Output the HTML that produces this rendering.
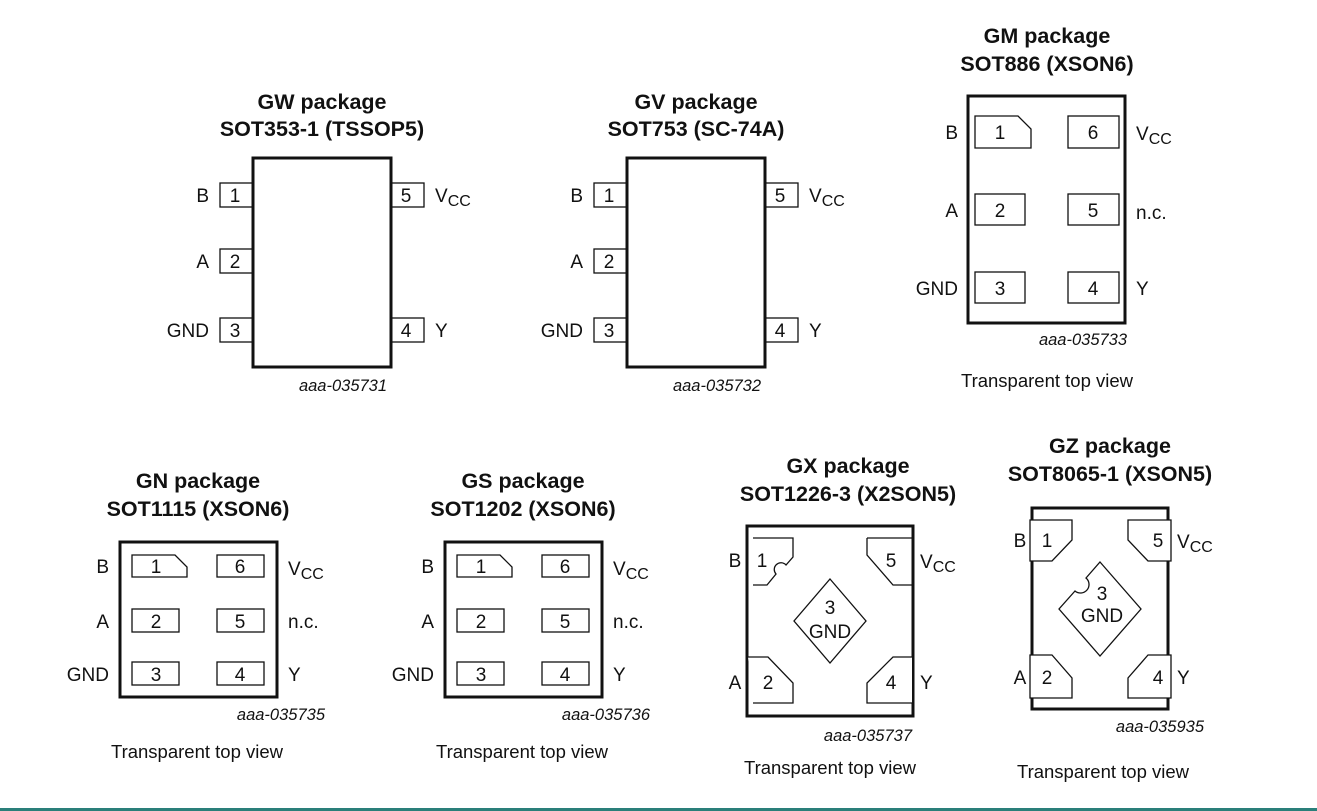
<!DOCTYPE html>
<html><head><meta charset="utf-8"><style>
html,body{margin:0;padding:0;background:#fff;}
svg{display:block;font-family:"Liberation Sans",Arial,sans-serif;}
.t{font-weight:bold;font-size:21.5px;text-anchor:middle;fill:#111;}
.l{font-size:19px;fill:#111;}
.n{font-size:19px;fill:#111;text-anchor:middle;}
.c{font-size:16.5px;font-style:italic;fill:#111;}
.v{font-size:18.5px;fill:#111;text-anchor:middle;}
.body{fill:none;stroke:#111;stroke-width:3;}
.pad{fill:#fff;stroke:#111;stroke-width:1.3;}
</style></head><body>
<svg width="1317" height="811" viewBox="0 0 1317 811">
<!-- GW -->
<g>
<text class="t" x="322" y="109">GW package</text>
<text class="t" x="322" y="136">SOT353-1 (TSSOP5)</text>
<rect class="pad" x="220" y="183" width="33" height="24"/><rect class="pad" x="220" y="249" width="33" height="24"/><rect class="pad" x="220" y="318" width="33" height="24"/>
<rect class="pad" x="391" y="183" width="33" height="24"/><rect class="pad" x="391" y="318" width="33" height="24"/>
<rect class="body" x="253" y="158" width="138" height="209" fill="#fff"/>
<text class="n" x="235" y="202">1</text><text class="n" x="235" y="268">2</text><text class="n" x="235" y="337">3</text>
<text class="n" x="406" y="202">5</text><text class="n" x="406" y="337">4</text>
<text class="l" x="209" y="202" text-anchor="end">B</text><text class="l" x="209" y="268" text-anchor="end">A</text><text class="l" x="209" y="337" text-anchor="end">GND</text>
<text class="l" x="435" y="202">V<tspan font-size="16" dy="4">CC</tspan></text><text class="l" x="435" y="337">Y</text>
<text class="c" x="343" y="391" text-anchor="middle">aaa-035731</text>
</g>
<!-- GV -->
<g transform="translate(374,0)">
<text class="t" x="322" y="109">GV package</text>
<text class="t" x="322" y="136">SOT753 (SC-74A)</text>
<rect class="pad" x="220" y="183" width="33" height="24"/><rect class="pad" x="220" y="249" width="33" height="24"/><rect class="pad" x="220" y="318" width="33" height="24"/>
<rect class="pad" x="391" y="183" width="33" height="24"/><rect class="pad" x="391" y="318" width="33" height="24"/>
<rect class="body" x="253" y="158" width="138" height="209" fill="#fff"/>
<text class="n" x="235" y="202">1</text><text class="n" x="235" y="268">2</text><text class="n" x="235" y="337">3</text>
<text class="n" x="406" y="202">5</text><text class="n" x="406" y="337">4</text>
<text class="l" x="209" y="202" text-anchor="end">B</text><text class="l" x="209" y="268" text-anchor="end">A</text><text class="l" x="209" y="337" text-anchor="end">GND</text>
<text class="l" x="435" y="202">V<tspan font-size="16" dy="4">CC</tspan></text><text class="l" x="435" y="337">Y</text>
<text class="c" x="343" y="391" text-anchor="middle">aaa-035732</text>
</g>
<!-- GM -->
<g>
<text class="t" x="1047" y="43">GM package</text>
<text class="t" x="1047" y="71">SOT886 (XSON6)</text>
<rect class="body" x="968" y="96" width="157" height="227"/>
<path class="pad" d="M975,116 H1018 L1031,129 V148 H975 Z"/>
<rect class="pad" x="1068" y="116" width="51" height="32"/>
<rect class="pad" x="975" y="194" width="50" height="31"/><rect class="pad" x="1068" y="194" width="51" height="31"/>
<rect class="pad" x="975" y="272" width="50" height="31"/><rect class="pad" x="1068" y="272" width="51" height="31"/>
<text class="n" x="1000" y="139">1</text><text class="n" x="1000" y="217">2</text><text class="n" x="1000" y="295">3</text>
<text class="n" x="1093" y="139">6</text><text class="n" x="1093" y="217">5</text><text class="n" x="1093" y="295">4</text>
<text class="l" x="958" y="139" text-anchor="end">B</text><text class="l" x="958" y="217" text-anchor="end">A</text><text class="l" x="958" y="295" text-anchor="end">GND</text>
<text class="l" x="1136" y="140">V<tspan font-size="16" dy="4">CC</tspan></text><text class="l" x="1136" y="219" font-size="13">n.c.</text><text class="l" x="1136" y="295">Y</text>
<text class="c" x="1083" y="345" text-anchor="middle">aaa-035733</text>
<text class="v" x="1047" y="387">Transparent top view</text>
</g>
<!-- GN -->
<g>
<text class="t" x="198" y="488">GN package</text>
<text class="t" x="198" y="516">SOT1115 (XSON6)</text>
<rect class="body" x="120" y="542" width="157" height="155"/>
<path class="pad" d="M132,555 H175 L187,567 V577 H132 Z"/>
<rect class="pad" x="132" y="609" width="47" height="23"/><rect class="pad" x="132" y="662" width="47" height="23"/>
<rect class="pad" x="217" y="555" width="47" height="22"/><rect class="pad" x="217" y="609" width="47" height="23"/><rect class="pad" x="217" y="662" width="47" height="23"/>
<text class="n" x="156" y="573">1</text><text class="n" x="156" y="628">2</text><text class="n" x="156" y="681">3</text>
<text class="n" x="240" y="573">6</text><text class="n" x="240" y="628">5</text><text class="n" x="240" y="681">4</text>
<text class="l" x="109" y="573" text-anchor="end">B</text><text class="l" x="109" y="628" text-anchor="end">A</text><text class="l" x="109" y="681" text-anchor="end">GND</text>
<text class="l" x="288" y="575">V<tspan font-size="16" dy="4">CC</tspan></text><text class="l" x="288" y="628" font-size="18">n.c.</text><text class="l" x="288" y="681">Y</text>
<text class="c" x="325" y="720" text-anchor="end">aaa-035735</text>
<text class="v" x="197" y="758">Transparent top view</text>
</g>
<!-- GS -->
<g transform="translate(325,0)">
<text class="t" x="198" y="488">GS package</text>
<text class="t" x="198" y="516">SOT1202 (XSON6)</text>
<rect class="body" x="120" y="542" width="157" height="155"/>
<path class="pad" d="M132,555 H175 L187,567 V577 H132 Z"/>
<rect class="pad" x="132" y="609" width="47" height="23"/><rect class="pad" x="132" y="662" width="47" height="23"/>
<rect class="pad" x="217" y="555" width="47" height="22"/><rect class="pad" x="217" y="609" width="47" height="23"/><rect class="pad" x="217" y="662" width="47" height="23"/>
<text class="n" x="156" y="573">1</text><text class="n" x="156" y="628">2</text><text class="n" x="156" y="681">3</text>
<text class="n" x="240" y="573">6</text><text class="n" x="240" y="628">5</text><text class="n" x="240" y="681">4</text>
<text class="l" x="109" y="573" text-anchor="end">B</text><text class="l" x="109" y="628" text-anchor="end">A</text><text class="l" x="109" y="681" text-anchor="end">GND</text>
<text class="l" x="288" y="575">V<tspan font-size="16" dy="4">CC</tspan></text><text class="l" x="288" y="628" font-size="18">n.c.</text><text class="l" x="288" y="681">Y</text>
<text class="c" x="325" y="720" text-anchor="end">aaa-035736</text>
<text class="v" x="197" y="758">Transparent top view</text>
</g>
<!-- GX -->
<g>
<text class="t" x="848" y="473">GX package</text>
<text class="t" x="848" y="501">SOT1226-3 (X2SON5)</text>
<rect class="body" x="747" y="526" width="166" height="190"/>
<path class="pad" d="M753,538 H793 V557 L786,565 A6,6 0 1 0 776,574 L767,585 H753"/>
<path class="pad" d="M867,538 H912 M867,538 V555 L893,585 H912"/>
<path class="pad" d="M753,703 H793 V683 L768,657 H748"/>
<path class="pad" d="M912,703 H867 V683 L893,657 H912"/>
<polygon class="pad" points="830,579 866,621 830,663 794,621"/>
<text class="n" x="762" y="567">1</text><text class="n" x="891" y="567">5</text><text class="n" x="768" y="689">2</text><text class="n" x="891" y="689">4</text>
<text class="n" x="830" y="614">3</text><text class="n" x="830" y="638">GND</text>
<text class="l" x="735" y="567" text-anchor="middle">B</text><text class="l" x="735" y="689" text-anchor="middle">A</text>
<text class="l" x="920" y="568">V<tspan font-size="16" dy="4">CC</tspan></text><text class="l" x="920" y="689">Y</text>
<text class="c" x="912" y="741" text-anchor="end">aaa-035737</text>
<text class="v" x="830" y="774">Transparent top view</text>
</g>
<!-- GZ -->
<g>
<text class="t" x="1110" y="453">GZ package</text>
<text class="t" x="1110" y="481">SOT8065-1 (XSON5)</text>
<rect class="body" x="1032" y="508" width="136" height="201"/>
<path class="pad" d="M1030,520 H1072 V540 L1052,561 H1030 Z"/>
<path class="pad" d="M1171,520 H1128 V540 L1148,561 H1171 Z"/>
<path class="pad" d="M1030,698 H1072 V678 L1052,655 H1030 Z"/>
<path class="pad" d="M1171,698 H1128 V678 L1148,655 H1171 Z"/>
<path class="pad" d="M1100,562 L1141,609 L1100,656 L1059,609 L1075,591 A6,6 0 0 0 1086,578 Z"/>
<text class="n" x="1047" y="547">1</text><text class="n" x="1158" y="547">5</text><text class="n" x="1047" y="684">2</text><text class="n" x="1158" y="684">4</text>
<text class="n" x="1102" y="600">3</text><text class="n" x="1102" y="622">GND</text>
<text class="l" x="1020" y="547" text-anchor="middle">B</text><text class="l" x="1020" y="684" text-anchor="middle">A</text>
<text class="l" x="1177" y="548">V<tspan font-size="16" dy="4">CC</tspan></text><text class="l" x="1177" y="684">Y</text>
<text class="c" x="1204" y="732" text-anchor="end">aaa-035935</text>
<text class="v" x="1103" y="778">Transparent top view</text>
</g>
<rect x="0" y="808" width="1317" height="3" fill="#2a7f7a"/>
</svg>
</body></html>
